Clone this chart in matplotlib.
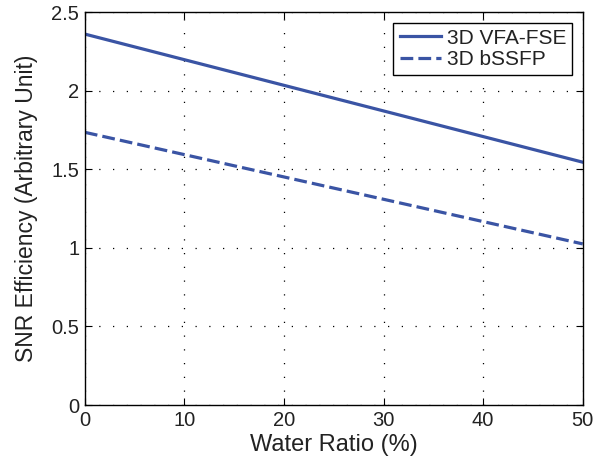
import matplotlib
matplotlib.use("Agg")
import matplotlib.pyplot as plt

plt.rcParams['font.family'] = ['Liberation Sans', 'DejaVu Sans']

water_ratio = [0, 10, 20, 30, 40, 50]
vfa_fse = [2.36, 2.197, 2.034, 1.871, 1.708, 1.545]
bssfp = [1.735, 1.593, 1.451, 1.309, 1.167, 1.025]

color = '#3a54a4'

fig = plt.figure(figsize=(6.02, 4.65), dpi=100)
ax = fig.add_axes([0.141, 0.129, 0.827, 0.845])
ax.plot(water_ratio, vfa_fse, '-', color=color, lw=2.3, label='3D VFA-FSE')
ax.plot(water_ratio, bssfp, '--', color=color, lw=2.3, dashes=(4, 1.6), label='3D bSSFP')
ax.set_xlim(0, 50)
ax.set_ylim(0, 2.5)
ax.set_xticks([0, 10, 20, 30, 40, 50])
ax.set_yticks([0, 0.5, 1, 1.5, 2, 2.5])
ax.set_yticklabels(['0', '0.5', '1', '1.5', '2', '2.5'])
ax.grid(True, color='black', linestyle=(0, (1, 10)), lw=0.9)
ax.tick_params(direction='in', top=True, right=True, labelsize=14.5, length=5, width=0.8, pad=4,
               labelcolor='#222222')
for s in ax.spines.values():
    s.set_linewidth(1.0)
ax.set_xlabel('Water Ratio (%)', fontsize=17, labelpad=3, color='#222222')
ax.set_ylabel('SNR Efficiency (Arbitrary Unit)', fontsize=16.5, labelpad=10, color='#222222')
leg = ax.legend(loc='upper right', fontsize=15, frameon=True, fancybox=False,
                edgecolor='black', framealpha=1, handlelength=2.0, borderpad=0.3,
                labelspacing=0.1, handletextpad=0.25, borderaxespad=0.5)
leg.get_frame().set_linewidth(1.0)
for t in leg.get_texts():
    t.set_color('#222222')
fig.savefig('out.png', dpi=100)
